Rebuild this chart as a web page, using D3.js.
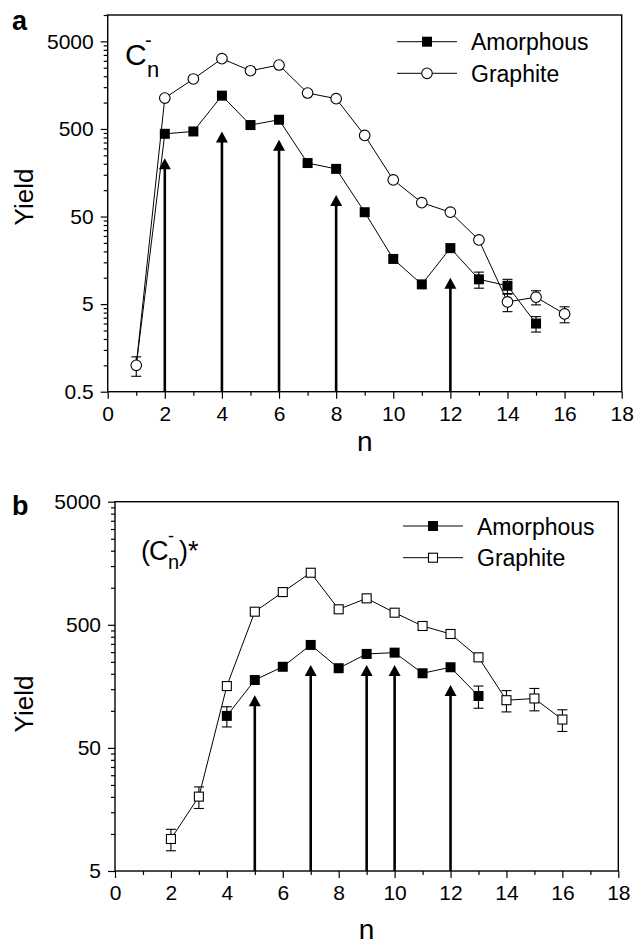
<!DOCTYPE html>
<html>
<head>
<meta charset="utf-8">
<script src="https://cdn.jsdelivr.net/npm/d3@7"></script>
<style>
body{margin:0;background:#fff;}
svg text{font-family:"Liberation Sans",Arial,sans-serif;fill:#000;}
</style>
</head>
<body>
<svg id="chart" width="635" height="945"></svg>
<script>
// panel a : C_n^-
const amorA_n = [1,2,3,4,5,6,7,8,9,10,11,12,13,14,15];
const amorA_y = [1.0,440,468,1200,554,637,204,175,56,16.4,8.4,21.8,9.6,8.1,3.0];
const amorA_err = [0,0,0,0,0,0,0,0,0,0,0,0,2,1.5,0.6];
const amorA_hidden = [1];   // marker sits under the graphite circle
const grapA_n = [1,2,3,4,5,6,7,8,9,10,11,12,13,14,15,16];
const grapA_y = [1.0,1127,1860,3170,2310,2685,1286,1107,422,131,72,56,27,5.3,6.0,3.86];
const grapA_err = [0.25,0,0,0,0,0,0,0,0,0,0,0,0,1.2,1.1,0.8];
const arrowA_n = [2,4,6,8,12];
const arrowA_y = [232,468,377,88,10];
const yTicksA = [0.5,5,50,500,5000];

// panel b : (C_n^-)*
const amorB_n = [4,5,6,7,8,9,10,11,12,13];
const amorB_y = [91,178,228,343,222,290,297,202,226,132];
const amorB_err = [17,0,0,0,0,0,0,0,0,27];
const grapB_n = [2,3,4,5,6,7,8,9,10,11,12,13,14,15,16];
const grapB_y = [9.1,20.1,159,639,922,1324,668,820,627,489,421,272,122,126,85];
const grapB_err = [1.8,4,0,0,0,0,0,0,0,0,0,0,24,26,17];
const arrowB_n = [5,7,9,10,12];
const arrowB_y = [134,236,236,236,162];
const yTicksB = [5,50,500,5000];

const xTicks = [0,2,4,6,8,10,12,14,16,18];
const xMinor = [1,3,5,7,9,11,13,15,17];
const seriesNames = ["Amorphous","Graphite"];

const svg = d3.select("#chart");

function zip(ns, ys, errs){
    return ns.map((n,i)=>({n:n, y:ys[i], e:errs[i]}));
}

function drawPanel(cfg){
    const g = svg.append("g");
    const x = d3.scaleLinear().domain([0,18]).range([cfg.left,cfg.right]);
    const y = d3.scaleLog().domain(cfg.yDomain).range([cfg.bottom,cfg.top]);

    // minor log ticks at k*major
    let yMinor = [];
    cfg.yTicks.forEach(m=>{
        for(let k=2;k<=9;k++){
            if(m*k <= cfg.yDomain[1]*1.0001) yMinor.push(m*k);
        }
    });

    g.append("g").attr("transform","translate(0,"+cfg.bottom+")")
        .call(d3.axisBottom(x).tickValues(xMinor).tickSize(4).tickFormat(""))
        .call(a=>a.select(".domain").remove());
    g.append("g").attr("transform","translate("+cfg.left+",0)")
        .call(d3.axisLeft(y).tickValues(yMinor).tickSize(4).tickFormat(""))
        .call(a=>a.select(".domain").remove());

    const xa = g.append("g").attr("transform","translate(0,"+cfg.bottom+")")
        .call(d3.axisBottom(x).tickValues(xTicks).tickSize(7).tickPadding(7).tickFormat(d3.format("d")));
    xa.select(".domain").remove();
    xa.selectAll("text").style("font-size","21px").style("font-family","Liberation Sans, Arial, sans-serif");

    const ya = g.append("g").attr("transform","translate("+cfg.left+",0)")
        .call(d3.axisLeft(y).tickValues(cfg.yTicks).tickSize(7).tickPadding(7).tickFormat(d=>String(d)));
    ya.select(".domain").remove();
    ya.selectAll("text").style("font-size","21px").style("font-family","Liberation Sans, Arial, sans-serif");

    g.selectAll(".tick line").attr("stroke","#000").attr("stroke-width",1.2);

    g.append("rect").attr("x",cfg.left).attr("y",cfg.top)
        .attr("width",cfg.right-cfg.left).attr("height",cfg.bottom-cfg.top)
        .attr("fill","none").attr("stroke","#000").attr("stroke-width",1.4);

    // arrows
    const arrows = cfg.arrN.map((n,i)=>({n:n, y:cfg.arrY[i]}));
    g.selectAll(".arrline").data(arrows).join("line")
        .attr("x1",d=>x(d.n)).attr("x2",d=>x(d.n))
        .attr("y1",cfg.bottom).attr("y2",d=>y(d.y)+8)
        .attr("stroke","#000").attr("stroke-width",2.6);
    g.selectAll(".arrhead").data(arrows).join("path")
        .attr("d",d=>{
            const px = x(d.n), py = y(d.y);
            return "M"+px+","+py+"L"+(px+6)+","+(py+11)+"L"+(px-6)+","+(py+11)+"Z";
        })
        .attr("fill","#000");

    const line = d3.line().x(d=>x(d.n)).y(d=>y(d.y));
    const series = [
        {name:"grap", data:zip(cfg.grN,cfg.grY,cfg.grE)},
        {name:"amor", data:zip(cfg.amN,cfg.amY,cfg.amE)}
    ];
    series.forEach(s=>{
        g.append("path").datum(s.data).attr("d",line)
            .attr("fill","none").attr("stroke","#000").attr("stroke-width",1);
    });
    series.forEach(s=>{
        const eb = s.data.filter(d=>d.e>0);
        const ge = g.append("g").attr("stroke","#000").attr("stroke-width",1.1);
        eb.forEach(d=>{
            const px = x(d.n), t = y(d.y+d.e), b = y(d.y-d.e);
            ge.append("line").attr("x1",px).attr("x2",px).attr("y1",t).attr("y2",b);
            ge.append("line").attr("x1",px-5).attr("x2",px+5).attr("y1",t).attr("y2",t);
            ge.append("line").attr("x1",px-5).attr("x2",px+5).attr("y1",b).attr("y2",b);
        });
        const pts = s.data.filter(d=>!(s.name==="amor" && cfg.amHidden.includes(d.n)));
        if(s.name==="amor"){
            g.selectAll(".am").data(pts).join("rect")
                .attr("x",d=>x(d.n)-5).attr("y",d=>y(d.y)-5)
                .attr("width",10).attr("height",10).attr("fill","#000");
        } else if(cfg.grShape==="circle"){
            g.selectAll(".gc").data(pts).join("circle")
                .attr("cx",d=>x(d.n)).attr("cy",d=>y(d.y)).attr("r",5.3)
                .attr("fill","#fff").attr("stroke","#000").attr("stroke-width",1.1);
        } else {
            g.selectAll(".gs").data(pts).join("rect")
                .attr("x",d=>x(d.n)-4.5).attr("y",d=>y(d.y)-4.5)
                .attr("width",9).attr("height",9)
                .attr("fill","#fff").attr("stroke","#000").attr("stroke-width",1.1);
        }
    });

    // legend
    const lg = g.append("g");
    seriesNames.forEach((nm,i)=>{
        const ly = cfg.legY + i*cfg.legGap;
        lg.append("line").attr("x1",cfg.legX).attr("x2",cfg.legX+60)
            .attr("y1",ly).attr("y2",ly).attr("stroke","#000").attr("stroke-width",1);
        const mx = cfg.legX+30;
        if(i===0){
            lg.append("rect").attr("x",mx-5).attr("y",ly-5).attr("width",10).attr("height",10).attr("fill","#000");
        } else if(cfg.grShape==="circle"){
            lg.append("circle").attr("cx",mx).attr("cy",ly).attr("r",5.3)
                .attr("fill","#fff").attr("stroke","#000").attr("stroke-width",1.1);
        } else {
            lg.append("rect").attr("x",mx-4.5).attr("y",ly-4.5).attr("width",9).attr("height",9)
                .attr("fill","#fff").attr("stroke","#000").attr("stroke-width",1.1);
        }
        lg.append("text").attr("x",cfg.legX+74).attr("y",ly+8.5)
            .style("font-size","23px").text(nm);
    });

    // axis titles
    g.append("text").attr("transform","translate(33,"+cfg.yTitleY+") rotate(-90)")
        .attr("text-anchor","middle").style("font-size","26px").text("Yield");
    g.append("text").attr("x",(cfg.left+cfg.right)/2).attr("y",cfg.xTitleY)
        .attr("text-anchor","middle").style("font-size","28px").text("n");
    g.append("text").attr("x",12).attr("y",cfg.letterY)
        .style("font-size","27px").style("font-weight","bold").text(cfg.letter);
    return g;
}

const ga = drawPanel({
    left:107.7, right:621.7, top:15, bottom:391.7, yDomain:[0.5,10000], yTicks:yTicksA,
    amN:amorA_n, amY:amorA_y, amE:amorA_err, amHidden:amorA_hidden,
    grN:grapA_n, grY:grapA_y, grE:grapA_err, grShape:"circle",
    arrN:arrowA_n, arrY:arrowA_y,
    legX:397, legY:41.7, legGap:31.6, yTitleY:197, xTitleY:451, letter:"a", letterY:30
});
ga.append("text").attr("x",125).attr("y",65).style("font-size","30px").text("C");
ga.append("text").attr("x",145).attr("y",47).style("font-size","20px").text("-");
ga.append("text").attr("x",147).attr("y",77).style("font-size","22px").text("n");

const gb = drawPanel({
    left:115, right:618.3, top:501.7, bottom:871, yDomain:[5,5000], yTicks:yTicksB,
    amN:amorB_n, amY:amorB_y, amE:amorB_err, amHidden:[],
    grN:grapB_n, grY:grapB_y, grE:grapB_err, grShape:"square",
    arrN:arrowB_n, arrY:arrowB_y,
    legX:403, legY:526, legGap:31.7, yTitleY:704, xTitleY:939, letter:"b", letterY:515
});
gb.append("text").attr("x",141).attr("y",560).style("font-size","27px").text("(");
gb.append("text").attr("x",149).attr("y",560).style("font-size","27px").text("C");
gb.append("text").attr("x",168).attr("y",542).style("font-size","18px").text("-");
gb.append("text").attr("x",168).attr("y",569).style("font-size","20px").text("n");
gb.append("text").attr("x",179).attr("y",560).style("font-size","27px").text(")*");
</script>
</body>
</html>
